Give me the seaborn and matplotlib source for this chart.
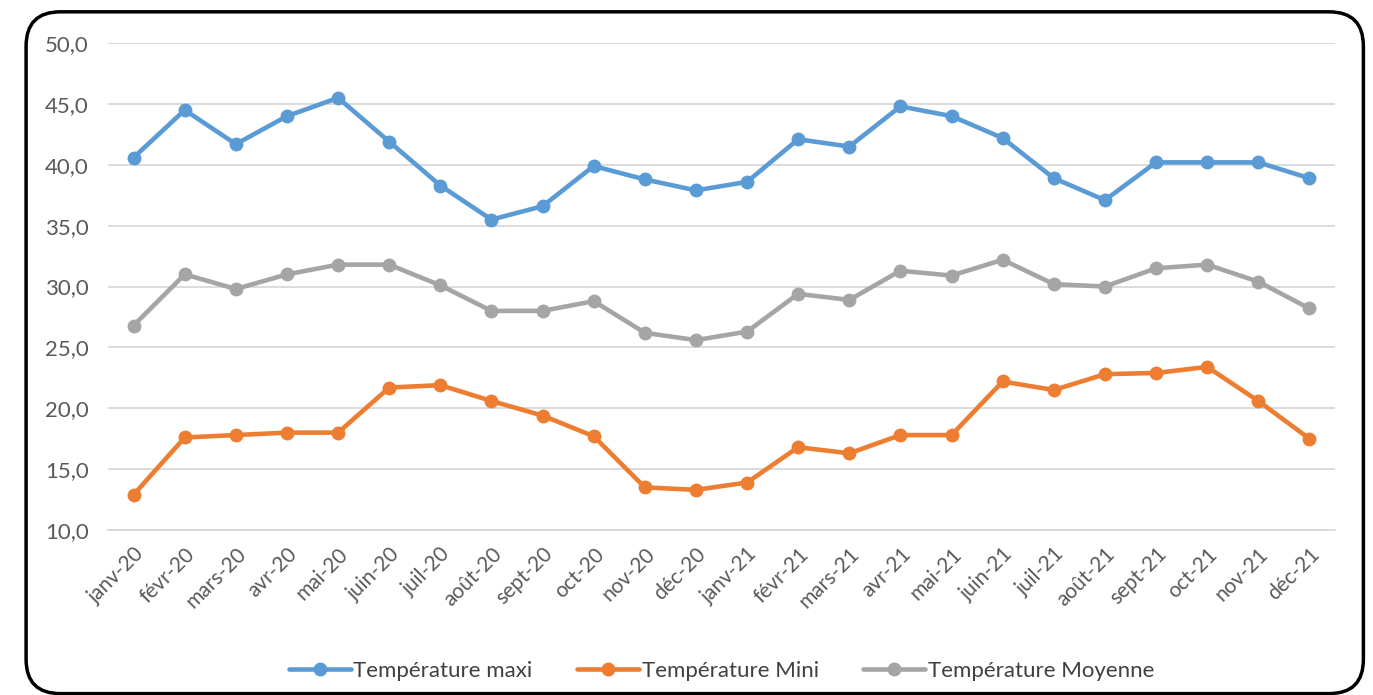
import pandas as pd
import seaborn as sns
import matplotlib.pyplot as plt
from matplotlib.patches import FancyBboxPatch
from matplotlib.ticker import FuncFormatter, FixedLocator

# Données
mois = ["janv-20", "févr-20", "mars-20", "avr-20", "mai-20", "juin-20", "juil-20", "août-20",
        "sept-20", "oct-20", "nov-20", "déc-20", "janv-21", "févr-21", "mars-21", "avr-21",
        "mai-21", "juin-21", "juil-21", "août-21", "sept-21", "oct-21", "nov-21", "déc-21"]
temp_maxi = [40.6, 44.5, 41.7, 44.0, 45.5, 41.9, 38.3, 35.5, 36.6, 39.9, 38.8, 37.9,
             38.6, 42.1, 41.5, 44.8, 44.0, 42.2, 38.9, 37.1, 40.2, 40.2, 40.2, 38.9]
temp_mini = [12.9, 17.6, 17.8, 18.0, 18.0, 21.7, 21.9, 20.6, 19.4, 17.7, 13.5, 13.3,
             13.9, 16.8, 16.3, 17.8, 17.8, 22.2, 21.5, 22.8, 22.9, 23.4, 20.6, 17.5]
temp_moy = [26.8, 31.0, 29.8, 31.0, 31.8, 31.8, 30.1, 28.0, 28.0, 28.8, 26.2, 25.6,
            26.3, 29.4, 28.9, 31.3, 30.9, 32.2, 30.2, 30.0, 31.5, 31.8, 30.4, 28.2]

series = ["Température maxi", "Température Mini", "Température Moyenne"]
couleurs = ["#5B9BD5", "#ED7D31", "#A5A5A5"]

df = pd.concat([
    pd.DataFrame({"mois": mois, "valeur": temp_maxi, "serie": series[0]}),
    pd.DataFrame({"mois": mois, "valeur": temp_mini, "serie": series[1]}),
    pd.DataFrame({"mois": mois, "valeur": temp_moy, "serie": series[2]}),
])
df["x"] = df["mois"].map({m: i for i, m in enumerate(mois)})

sns.set_style("white")
plt.rcParams["font.family"] = ["Lato", "DejaVu Sans"]

fig = plt.figure(figsize=(13.73, 6.95), dpi=100)
fig.patch.set_facecolor("white")

# cadre arrondi autour du graphique
cadre = FancyBboxPatch((0.019, 0.002), 0.974, 0.981, boxstyle="round,pad=0,rounding_size=0.025",
                       transform=fig.transFigure, facecolor="none", edgecolor="black",
                       linewidth=2.5, mutation_aspect=1373 / 695)
fig.patches.append(cadre)

ax = fig.add_axes([0.0787, 0.2374, 0.8936, 0.7006])
ax.set_facecolor("none")

sns.lineplot(data=df, x="x", y="valeur", hue="serie", hue_order=series, palette=couleurs,
             marker="o", markersize=10, markeredgewidth=0, linewidth=3.3, ax=ax, sort=False)

ax.set_xlim(-0.5, len(mois) - 0.5)
ax.set_ylim(10, 50)
ax.set_yticks(range(10, 51, 5))
ax.yaxis.set_major_formatter(FuncFormatter(lambda v, p: f"{v:.1f}".replace(".", ",")))
ax.yaxis.grid(True, color="#D9D9D9", linewidth=1.3)
ax.set_axisbelow(True)

ax.set_xticks(range(len(mois)))
ax.set_xticklabels(mois, rotation=45, ha="right", rotation_mode="anchor")
ax.xaxis.set_minor_locator(FixedLocator([i - 0.5 for i in range(len(mois) + 1)]))
ax.tick_params(axis="x", which="major", length=0, pad=10, labelsize=15, labelcolor="#595959")
ax.tick_params(axis="x", which="minor", length=7, color="#D9D9D9", width=1.3, direction="out")
ax.tick_params(axis="y", length=0, labelsize=16, labelcolor="#595959", pad=14)

for s in ["top", "right", "left"]:
    ax.spines[s].set_visible(False)
ax.spines["bottom"].set_color("#D9D9D9")
ax.spines["bottom"].set_linewidth(1.3)

ax.set_xlabel("")
ax.set_ylabel("")

handles, labels = ax.get_legend_handles_labels()
ax.legend(handles, labels, loc="center", bbox_to_anchor=(0.5, -0.29), ncol=3, frameon=False,
          fontsize=16, labelcolor="#404040", handlelength=2.8, handletextpad=0.1, columnspacing=2)

fig.savefig("out.png", dpi=100)
